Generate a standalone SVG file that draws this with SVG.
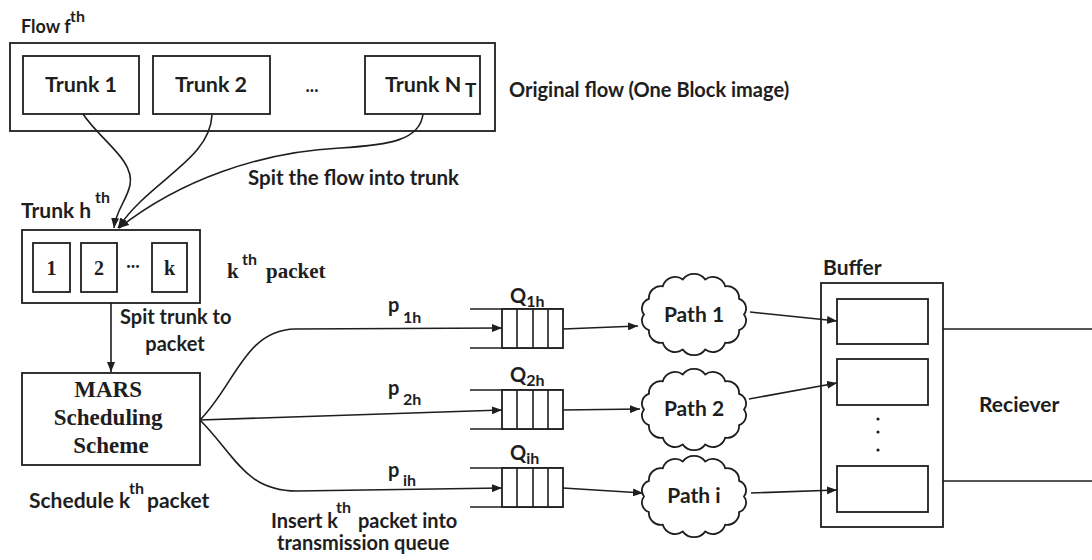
<svg xmlns="http://www.w3.org/2000/svg" width="1092" height="560" viewBox="0 0 1092 560">
  <defs>
    <style>
      .box { fill: #fff; stroke: #1e1e1e; stroke-width: 1.8; }
      .line { fill: none; stroke: #1e1e1e; stroke-width: 1.6; }
      .arr { fill: none; stroke: #1e1e1e; stroke-width: 1.6; marker-end: url(#head); }
      .sans { font-family: Lato, "Open Sans", "Liberation Sans", sans-serif; font-weight: 700; fill: #1e1e1e; }
      .serif { font-family: "Liberation Serif", "DejaVu Serif", serif; font-weight: 700; fill: #1e1e1e; }
      .s18 { font-size: 18px; }
      .s20 { font-size: 20px; }
      .s21 { font-size: 21px; }
      .trunk { font-size: 21.5px; }
      .sup { font-size: 16px; }
    </style>
    <marker id="head" viewBox="0 0 10 8" refX="10" refY="4" markerWidth="10" markerHeight="8" markerUnits="userSpaceOnUse" orient="auto">
      <path d="M0,0 L10,4 L0,8 Z" fill="#1e1e1e"/>
    </marker>
    <path id="cloud" class="box" d="M50,0 A10,10 0 0 1 45.1,15.6 A12,12 0 0 1 31.2,28.2 A13,13 0 0 1 11.2,35.1 A14,14 0 0 1 -11.2,35.1 A13,13 0 0 1 -31.2,28.2 A12,12 0 0 1 -45.1,15.6 A10,10 0 0 1 -50,0 A10,10 0 0 1 -45.1,-15.6 A12,12 0 0 1 -31.2,-28.2 A13,13 0 0 1 -11.2,-35.1 A14,14 0 0 1 11.2,-35.1 A13,13 0 0 1 31.2,-28.2 A12,12 0 0 1 45.1,-15.6 A10,10 0 0 1 50,0 Z"/>
    <g id="queue">
      <path class="line" d="M0,0 H93 M0,39 H93"/>
      <rect class="box" x="32" y="0" width="61" height="39"/>
      <path class="line" d="M47,0 V39 M63,0 V39 M78,0 V39"/>
    </g>
  </defs>
  <rect width="1092" height="560" fill="#fff"/>

  <!-- original flow with its trunks -->
  <g id="flow">
    <text class="sans s18" x="21" y="33">Flow f<tspan class="sup" x="70" y="22">th</tspan></text>
    <rect class="box" x="10" y="43" width="485" height="88"/>
    <text class="sans s20" x="509" y="97">Original flow (One Block image)</text>
  </g>
  <g id="trunk1">
    <rect class="box" x="23" y="56" width="116" height="58"/>
    <text class="sans trunk" x="81" y="92" text-anchor="middle">Trunk 1</text>
  </g>
  <g id="trunk2">
    <rect class="box" x="153" y="56" width="117" height="58"/>
    <text class="sans trunk" x="211" y="92" text-anchor="middle">Trunk 2</text>
  </g>
  <g id="trunk-dots">
    <text class="sans s18" x="312" y="92" text-anchor="middle">...</text>
  </g>
  <g id="trunkN">
    <rect class="box" x="365" y="56" width="115" height="58"/>
    <text class="sans trunk" x="385" y="92">Trunk N<tspan x="465" y="97" font-size="19">T</tspan></text>
  </g>

  <!-- trunk h split into packets -->
  <g id="trunkH">
    <text class="sans s21" x="21" y="218">Trunk h<tspan class="sup" x="95" y="203">th</tspan></text>
    <rect class="box" x="22" y="230" width="178" height="73"/>
    <rect class="box" x="33" y="243" width="37" height="49"/>
    <text class="serif s20" x="51.5" y="275" text-anchor="middle">1</text>
    <rect class="box" x="81" y="243" width="36" height="49"/>
    <text class="serif s20" x="99" y="275" text-anchor="middle">2</text>
    <text class="serif s18" x="133" y="268" text-anchor="middle">...</text>
    <rect class="box" x="152" y="243" width="35" height="49"/>
    <text class="serif s20" x="169.5" y="275" text-anchor="middle">k</text>
    <text class="serif" font-size="21" x="227" y="278">k<tspan class="sans sup" x="242" y="265">th</tspan><tspan x="266" y="278">packet</tspan></text>
  </g>

  <g id="mars">
    <rect class="box" x="22" y="373" width="178" height="92"/>
    <text class="serif" font-size="23" text-anchor="middle">
      <tspan x="111" y="397">MARS</tspan>
      <tspan x="111" y="425">Scheduling</tspan>
      <tspan x="111" y="453">Scheme</tspan>
    </text>
    <text class="sans s21" x="29" y="508">Schedule k<tspan class="sup" x="129" y="494">th</tspan><tspan x="147" y="508">packet</tspan></text>
  </g>

  <!-- transmission queues -->
  <g id="queue1">
    <use href="#queue" x="470" y="309"/>
    <text class="sans s20" x="510" y="303">Q<tspan class="sup" dy="4">1h</tspan></text>
  </g>
  <g id="queue2">
    <use href="#queue" x="470" y="390"/>
    <text class="sans s20" x="510" y="382">Q<tspan class="sup" dy="4">2h</tspan></text>
  </g>
  <g id="queuei">
    <use href="#queue" x="470" y="468"/>
    <text class="sans s20" x="510" y="460">Q<tspan class="sup" dy="4">ih</tspan></text>
  </g>

  <!-- network paths -->
  <g id="path1">
    <use href="#cloud" transform="translate(694,314.5)"/>
    <text class="sans s21" x="694" y="322" text-anchor="middle">Path 1</text>
  </g>
  <g id="path2">
    <use href="#cloud" transform="translate(694,409.5)"/>
    <text class="sans s21" x="694" y="416" text-anchor="middle">Path 2</text>
  </g>
  <g id="pathi">
    <use href="#cloud" transform="translate(694,496.5)"/>
    <text class="sans s21" x="694" y="503" text-anchor="middle">Path i</text>
  </g>

  <!-- receiver buffer -->
  <g id="buffer">
    <text class="sans s21" x="823" y="275">Buffer</text>
    <rect class="box" x="821" y="283" width="122" height="244"/>
    <rect class="box" x="837" y="299" width="91" height="45"/>
    <rect class="box" x="837" y="359" width="91" height="46"/>
    <rect class="box" x="837" y="466" width="91" height="46"/>
    <circle cx="878" cy="419" r="1.6" fill="#1e1e1e"/>
    <circle cx="878" cy="432" r="1.6" fill="#1e1e1e"/>
    <circle cx="878" cy="450" r="1.6" fill="#1e1e1e"/>
  </g>
  <g id="receiver">
    <path class="line" d="M943,329 H1092 M943,481 H1092"/>
    <text class="sans s21" x="979" y="412">Reciever</text>
  </g>

  <!-- connectors -->
  <g id="connectors">
    <path class="arr" d="M83,114 C100,140 135,160 130,185 C127,200 116,210 114,228"/>
    <path class="arr" d="M212,115 C210,160 150,180 118,228"/>
    <path class="arr" d="M423,114 C420,140 390,145 340,148 C260,152 180,180 119,228"/>
    <text class="sans" font-size="20.5" x="248" y="185">Spit the flow into trunk</text>

    <path class="arr" d="M111,303 V372"/>
    <text class="sans s20" x="120" y="324">Spit trunk to</text>
    <text class="sans s20" x="175" y="351" text-anchor="middle">packet</text>

    <path class="arr" d="M200,420 C235,385 245,330 295,329 L502,328"/>
    <path class="arr" d="M200,420 L502,410"/>
    <path class="arr" d="M200,420 C235,455 245,491 297,491 L502,488"/>
    <text class="sans s20" x="388" y="312">p<tspan class="sup" x="403" y="323">1h</tspan></text>
    <text class="sans s20" x="388" y="395">p<tspan class="sup" x="403" y="405">2h</tspan></text>
    <text class="sans s20" x="388" y="477">p<tspan class="sup" x="403" y="486">ih</tspan></text>
    <text class="sans s20" x="271" y="528">Insert k<tspan class="sup" x="336" y="513">th</tspan><tspan x="358" y="528">packet into</tspan></text>
    <text class="sans s20" x="277" y="550">transmission queue</text>

    <path class="arr" d="M563,329 L638,326"/>
    <path class="arr" d="M563,410 L640,409"/>
    <path class="arr" d="M563,488 L643,493"/>

    <path class="arr" d="M750,312 L837,321"/>
    <path class="arr" d="M749,399 L837,383"/>
    <path class="arr" d="M751,493 L837,490"/>
  </g>
</svg>
